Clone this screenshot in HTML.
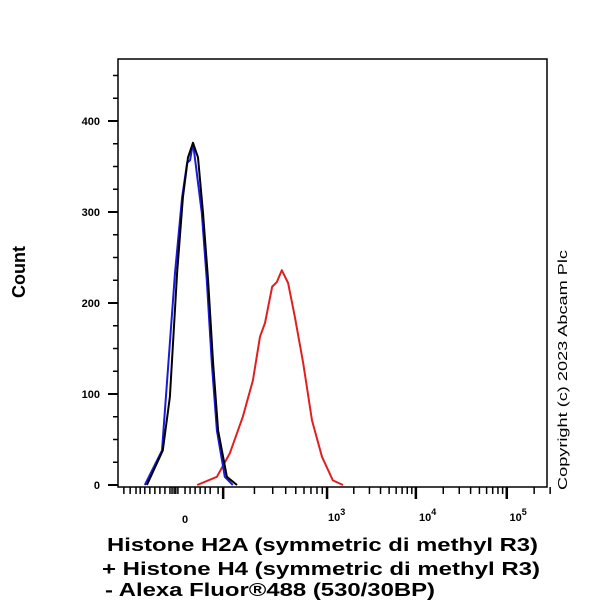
<!DOCTYPE html>
<html><head><meta charset="utf-8"><style>
html,body{margin:0;padding:0;background:#fff;width:600px;height:600px;overflow:hidden}
svg{display:block;font-family:"Liberation Sans",Arial,sans-serif}
</style></head><body>
<svg id="chart" width="600" height="600" viewBox="0 0 600 600">
<rect x="118" y="59" width="429" height="428" fill="none" stroke="#000" stroke-width="1.5"/>
<g id="yaxis"></g>
<g id="xaxis"></g>
<g id="series"></g>
<text x="0" y="0" transform="translate(25,272) rotate(-90)" text-anchor="middle" font-weight="bold" font-size="18">Count</text>
<text x="567" y="490" transform="rotate(-90 567 490)" font-size="13" textLength="240" lengthAdjust="spacingAndGlyphs">Copyright (c) 2023 Abcam Plc</text>
<g font-weight="bold" font-size="18">
<text x="107" y="551" textLength="431" lengthAdjust="spacingAndGlyphs">Histone H2A (symmetric di methyl R3)</text>
<text x="102" y="575" textLength="438" lengthAdjust="spacingAndGlyphs">+ Histone H4 (symmetric di methyl R3)</text>
<text x="105" y="596" textLength="330" lengthAdjust="spacingAndGlyphs">- Alexa Fluor®488 (530/30BP)</text>
</g>
</svg>
<script>
const yTicks=[0,100,200,300,400];
const yMinor=[25,50,75,125,150,175,225,250,275,325,350,375,425,450];
const xLabels=["0","10³","10⁴","10⁵"];
const xLabelVals=[160,522,739,955];
const xMajor=[251,499,711,928];
const xLinearMinor=[14,29,43,53,64,76,88,100,112,124,129,134,138,143,160,172,184,196,208,220,239];
const blackX=[69,107,124,141,155,167,179,191,203,215,227,239,260,284];
const blackY=[0,38,97,233,316,360,376,360,299,225,134,60,9,0];
const blueX=[64,105,136,153,165,172,179,200,212,224,236,255,274];
const blueY=[0,38,233,316,354,357,376,299,225,134,60,9,0];
const redX=[189,236,267,298,322,339,351,368,379,391,406,422,442,463,487,513,537];
const redY=[0,9,35,75,115,163,178,218,223,236,222,185,134,71,31,5,0];

const NS="http://www.w3.org/2000/svg";
const xs=v=>118+v*429/1024;
const ys=c=>485-c*0.91;
function mk(tag,attrs,parent){const e=document.createElementNS(NS,tag);for(const k in attrs)e.setAttribute(k,attrs[k]);parent.appendChild(e);return e;}
const ya=document.getElementById('yaxis'),xa=document.getElementById('xaxis'),sg=document.getElementById('series');
yTicks.forEach(t=>{
  const l=mk('line',{x1:108,x2:118,y1:ys(t),y2:ys(t),stroke:'#000','stroke-width':2},ya);
  
  
  const tx=mk('text',{x:100,y:ys(t)+4,'text-anchor':'end','font-size':11,'font-weight':'bold'},ya);
  tx.textContent=t;
  
  
});
yMinor.forEach(t=>{
  const l=mk('line',{x1:113,x2:118,y1:ys(t),y2:ys(t),stroke:'#000','stroke-width':1.5},ya);
  
  
});
xMajor.forEach(v=>{
  const l=mk('line',{x1:xs(v),x2:xs(v),y1:487,y2:499,stroke:'#000','stroke-width':2.5},xa);
  
  
});
const minors=xLinearMinor.slice();
for(let d=0;d<3;d++){for(let k=2;k<10;k++){minors.push(xMajor[d]+(xMajor[d+1]-xMajor[d])*Math.log10(k));}}
for(let k=2;k<=3;k++){minors.push(xMajor[3]+(xMajor[3]-xMajor[2])*Math.log10(k));}
minors.forEach(v=>{
  const l=mk('line',{x1:xs(v),x2:xs(v),y1:487,y2:494,stroke:'#000','stroke-width':1.5},xa);
  
  
});
xLabels.forEach((s,i)=>{
  const tx=mk('text',{x:xs(xLabelVals[i]),y:i==0?523:521,'text-anchor':'middle','font-size':11,'font-weight':'bold'},xa);
  if(i==0){tx.textContent=s;}else{tx.textContent='10';const sp=mk('tspan',{dy:-6,'font-size':9},tx);sp.textContent=s.slice(2)=='³'?'3':s.slice(2)=='⁴'?'4':'5';}
  
  
});
function path(X,Y,color,name){
  const d=X.map((x,i)=>(i?'L':'M')+xs(x).toFixed(1)+','+ys(Y[i]).toFixed(1)).join(' ');
  const p=mk('path',{d:d,fill:'none',stroke:color,'stroke-width':2,'stroke-linejoin':'round'},sg);
  
  
}
path(redX,redY,'#e02020','red-histogram');
path(blueX,blueY,'#1a1adc','blue-histogram');
path(blackX,blackY,'#000','black-histogram');
</script>
</body></html>
